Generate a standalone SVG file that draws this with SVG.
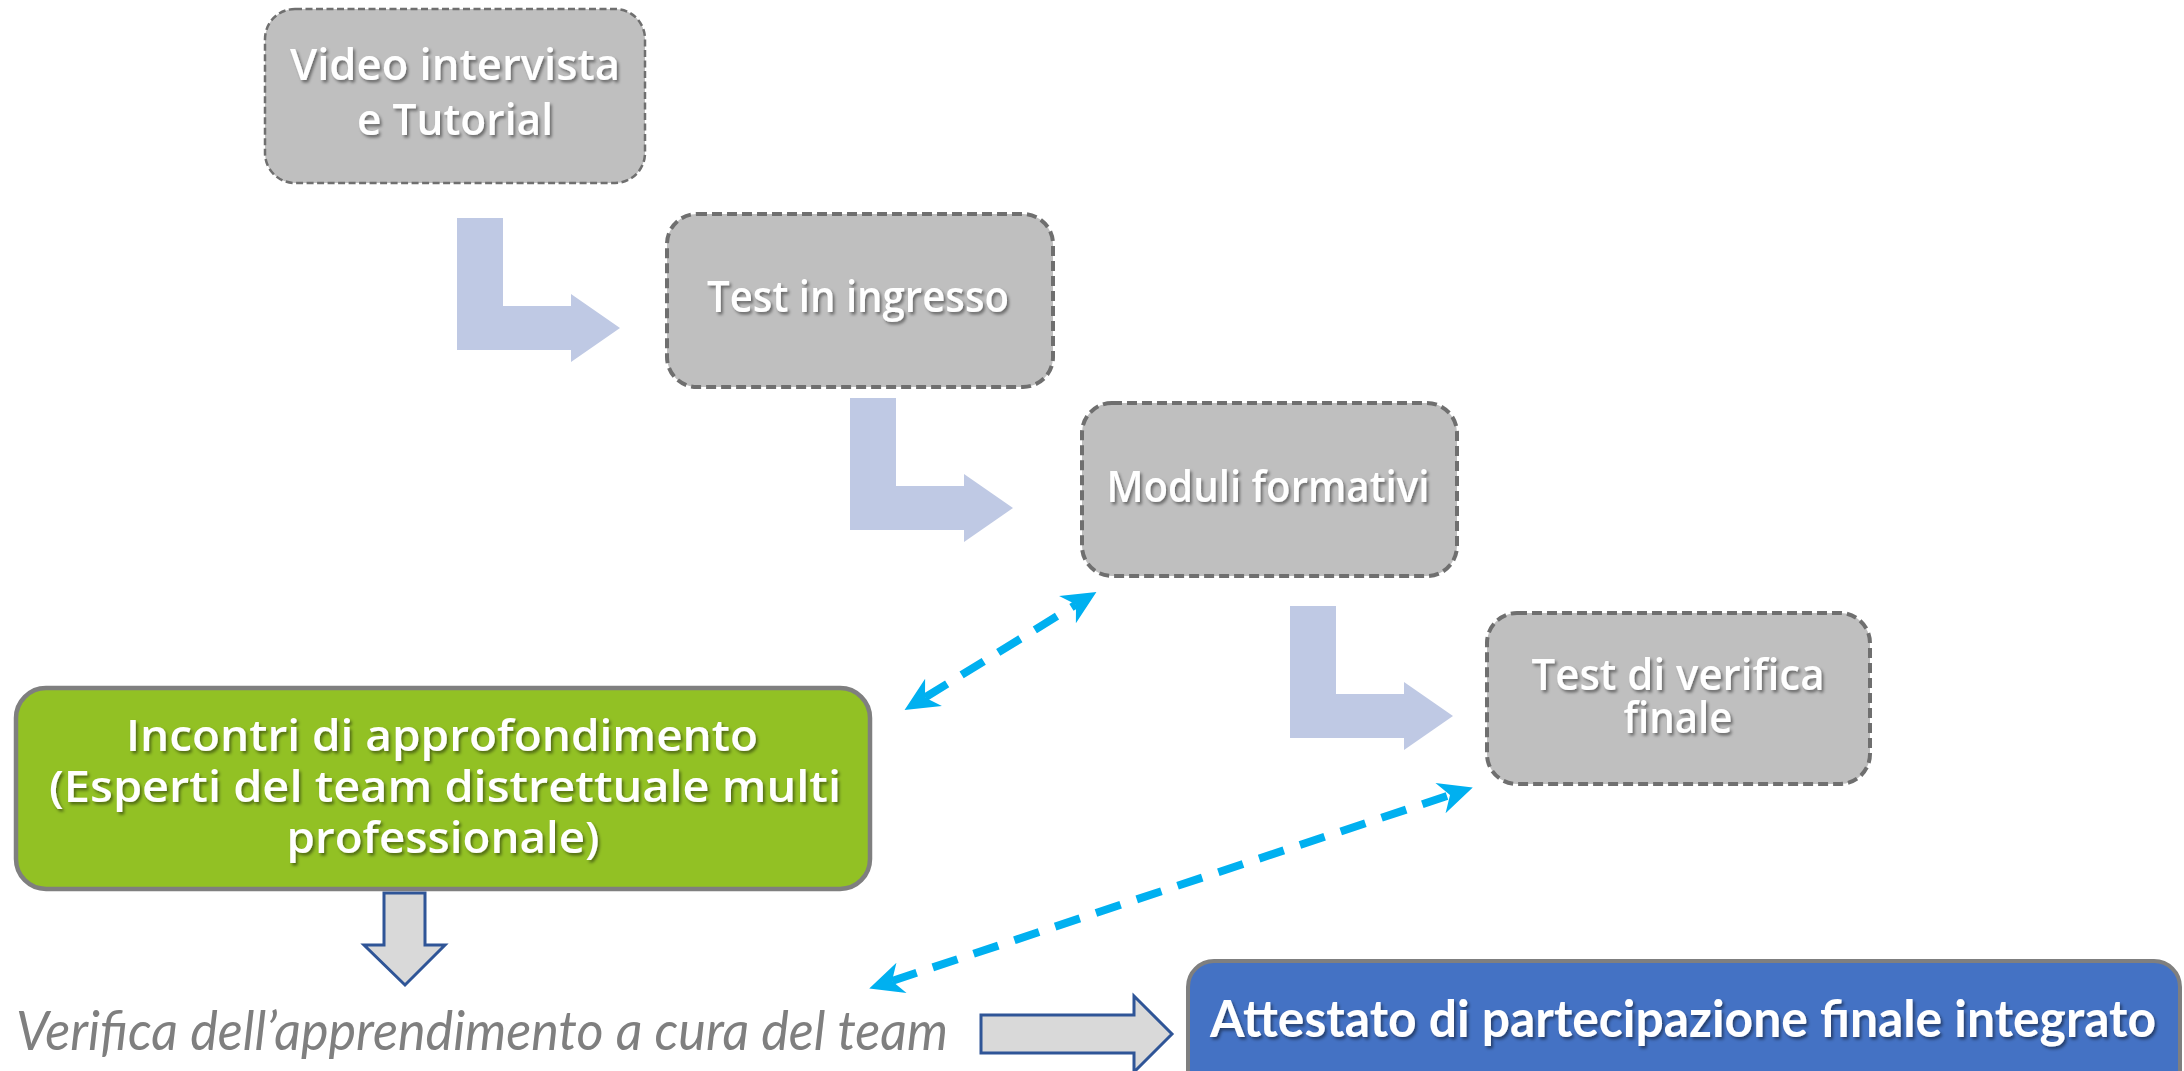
<svg xmlns="http://www.w3.org/2000/svg" width="2184" height="1071" viewBox="0 0 2184 1071">
<style>
  .gnode { fill: #BFBFBF; stroke: #6F6F6F; stroke-width: 4; stroke-dasharray: 10 5; }
  .gtxt { fill: #FFFFFF; font-family: "Open Sans", "DejaVu Sans", sans-serif; font-weight: 600; font-size: 43px; text-anchor: middle; filter: url(#tshadow); }
  .lar { fill: #BFC9E4; }
  .dbl { fill: none; stroke: #00B0F0; stroke-width: 8; stroke-dasharray: 26 17; marker-start: url(#stealth); marker-end: url(#stealth); }
  .blk { fill: #D9D9D9; stroke: #2F5597; stroke-width: 3; stroke-linejoin: miter; }
</style>
<defs>
  <filter id="tshadow" x="-10%" y="-30%" width="120%" height="160%">
    <feDropShadow dx="2" dy="2.5" stdDeviation="1.5" flood-color="#000000" flood-opacity="0.45"/>
  </filter>
  <marker id="stealth" markerUnits="userSpaceOnUse" markerWidth="60" markerHeight="60" viewBox="-20 -30 60 60" refX="0" refY="0" orient="auto-start-reverse" overflow="visible">
    <path d="M24,0 L-10,-16 L0,0 L-10,16 Z" fill="#00B0F0"/>
  </marker>
</defs>
<rect width="2184" height="1071" fill="#FFFFFF"/>

<g id="connectors">
  <path id="larrow1" class="lar" d="M457,218 h46 v88 h68 v-12 l49,34 l-49,34 v-12 h-114 Z"/>
  <path id="larrow2" class="lar" d="M850,398 h46 v88 h68 v-12 l49,34 l-49,34 v-12 h-114 Z"/>
  <path id="larrow3" class="lar" d="M1290,606 h46 v88 h68 v-12 l49,34 l-49,34 v-12 h-114 Z"/>
  <line id="dashA" class="dbl" x1="925" y1="697.5" x2="1076" y2="604.5"/>
  <line id="dashB" class="dbl" x1="892" y1="981" x2="1450" y2="795"/>
  <path id="downarrow" class="blk" d="M384,893 L425,893 L425,945 L445,945 L405,985 L364,945 L384,945 Z"/>
  <path id="rightarrow" class="blk" d="M981,1015 L1134,1015 L1134,996 L1172,1034 L1134,1072 L1134,1053 L981,1053 Z"/>
</g>

<g id="node-video">
  <rect x="265" y="9" width="380" height="174" rx="30" fill="#BFBFBF" stroke="#6F6F6F" stroke-width="2.5" stroke-dasharray="7 3.5"/>
  <text class="gtxt" x="455" y="80" font-weight="700" textLength="330" lengthAdjust="spacingAndGlyphs">Video intervista</text>
  <text class="gtxt" x="455" y="135" font-weight="700" textLength="196" lengthAdjust="spacingAndGlyphs">e Tutorial</text>
</g>

<g id="node-test-ingresso">
  <rect class="gnode" x="667" y="214" width="386" height="173" rx="30"/>
  <text class="gtxt" x="858" y="312" textLength="302" lengthAdjust="spacingAndGlyphs">Test in ingresso</text>
</g>

<g id="node-moduli">
  <rect class="gnode" x="1082" y="403" width="375" height="173" rx="30"/>
  <text class="gtxt" x="1268" y="502" textLength="323" lengthAdjust="spacingAndGlyphs">Moduli formativi</text>
</g>

<g id="node-test-finale">
  <rect class="gnode" x="1487" y="613" width="383" height="171" rx="30"/>
  <text class="gtxt" x="1678" y="690" textLength="293" lengthAdjust="spacingAndGlyphs">Test di verifica</text>
  <text class="gtxt" x="1678" y="733" textLength="109" lengthAdjust="spacingAndGlyphs">finale</text>
</g>

<g id="node-incontri">
  <rect x="16" y="688" width="854" height="201" rx="30" fill="#92C124" stroke="#7F7F7F" stroke-width="4.5"/>
  <text class="gtxt" x="442" y="751" font-size="44" textLength="632" lengthAdjust="spacingAndGlyphs">Incontri di approfondimento</text>
  <text class="gtxt" x="445" y="802" font-size="44" textLength="792" lengthAdjust="spacingAndGlyphs">(Esperti del team distrettuale multi</text>
  <text class="gtxt" x="443" y="853" font-size="44" textLength="313" lengthAdjust="spacingAndGlyphs">professionale)</text>
</g>

<g id="label-verifica">
  <text x="16" y="1050" font-family="Lato, 'Open Sans', sans-serif" font-style="italic" font-weight="400" font-size="55" fill="#7F7F7F" textLength="932" lengthAdjust="spacingAndGlyphs">Verifica dell’apprendimento a cura del team</text>
</g>

<g id="node-attestato">
  <rect x="1188" y="961" width="992" height="160" rx="26" fill="#4472C4" stroke="#7F7F7F" stroke-width="4"/>
  <text x="1683" y="1037" font-family="Lato, 'Open Sans', sans-serif" font-weight="700" font-size="52" fill="#FFFFFF" text-anchor="middle" filter="url(#tshadow)" textLength="946" lengthAdjust="spacingAndGlyphs">Attestato di partecipazione finale integrato</text>
</g>
</svg>
